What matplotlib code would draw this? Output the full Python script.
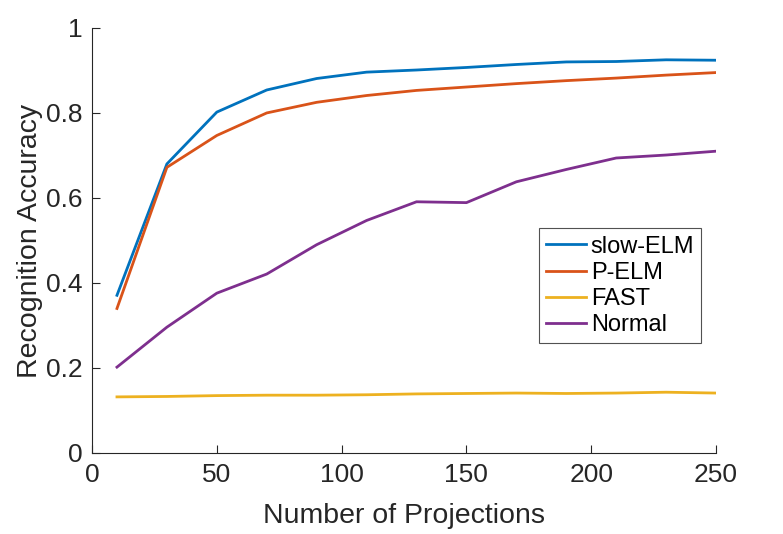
import matplotlib
matplotlib.use("Agg")
import matplotlib.pyplot as plt

plt.rcParams["font.family"] = ["Liberation Sans", "DejaVu Sans"]

projections = [10, 30, 50, 70, 90, 110, 130, 150, 170, 190, 210, 230, 250]
slow_elm = [0.371, 0.680, 0.802, 0.854, 0.881, 0.896, 0.901, 0.907, 0.914, 0.920, 0.921, 0.925, 0.924]
p_elm = [0.340, 0.672, 0.747, 0.800, 0.825, 0.841, 0.853, 0.861, 0.869, 0.876, 0.882, 0.889, 0.895]
fast = [0.132, 0.133, 0.135, 0.136, 0.136, 0.137, 0.139, 0.140, 0.141, 0.140, 0.141, 0.143, 0.141]
normal = [0.202, 0.296, 0.376, 0.421, 0.490, 0.547, 0.591, 0.589, 0.638, 0.667, 0.694, 0.701, 0.710]

fig = plt.figure(figsize=(7.83, 5.34), dpi=100)
ax = fig.add_axes([0.1175, 0.1517, 0.797, 0.796])

ax.plot(projections, slow_elm, color="#0072BD", lw=2, label="slow-ELM")
ax.plot(projections, p_elm, color="#D95319", lw=2, label="P-ELM")
ax.plot(projections, fast, color="#EDB120", lw=2, label="FAST")
ax.plot(projections, normal, color="#7E2F8E", lw=2, label="Normal")

ax.set_xlim(0, 250)
ax.set_ylim(0, 1)
ax.set_xticks([0, 50, 100, 150, 200, 250])
ax.set_yticks([0, 0.2, 0.4, 0.6, 0.8, 1])
ax.set_yticklabels(["0", "0.2", "0.4", "0.6", "0.8", "1"])
ax.spines["top"].set_visible(False)
ax.spines["right"].set_visible(False)
for s in ("left", "bottom"):
    ax.spines[s].set_color("#262626")
    ax.spines[s].set_linewidth(0.8)
ax.tick_params(direction="in", length=6, width=0.8, colors="#262626",
               labelsize=19, pad=7)

ax.set_xlabel("Number of Projections", fontsize=20.5, color="#262626", labelpad=12)
ax.set_ylabel("Recognition Accuracy", fontsize=20.5, color="#262626", labelpad=2)

leg = ax.legend(loc="center left", bbox_to_anchor=(0.716, 0.393), fontsize=17,
                frameon=True, fancybox=False, handlelength=1.7,
                handletextpad=0.2, borderpad=0.3, labelspacing=0.18,
                borderaxespad=0)
leg.get_frame().set_edgecolor("#262626")
leg.get_frame().set_linewidth(0.8)

fig.savefig("out.png", dpi=100)
